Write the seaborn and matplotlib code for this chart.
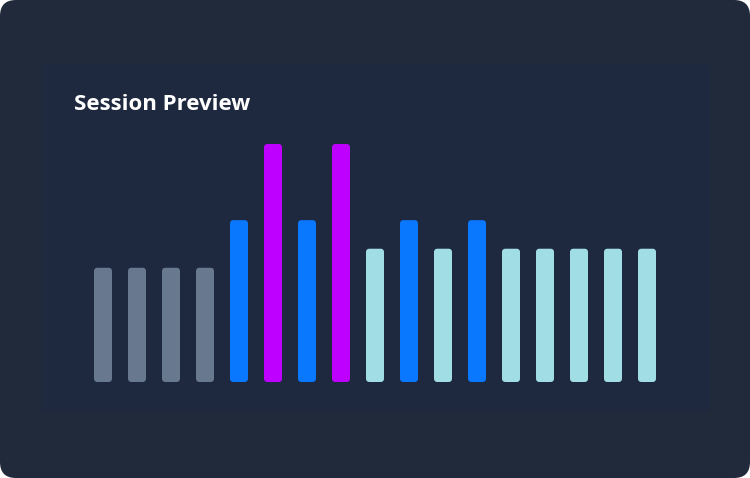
import pandas as pd
import seaborn as sns
import matplotlib.pyplot as plt
from matplotlib.patches import FancyBboxPatch

sns.set_style("white")
plt.rcParams["font.family"] = ["Open Sans", "DejaVu Sans"]

# bar data
slots = [str(i) for i in range(1, 18)]
values = [48, 48, 48, 48, 68, 100, 68, 100, 56, 68, 56, 68, 56, 56, 56, 56, 56]
kinds = ["idle", "idle", "idle", "idle", "active", "peak", "active", "peak",
         "rest", "active", "rest", "active", "rest", "rest", "rest", "rest", "rest"]

colors = {"idle": "#67788f", "active": "#0a77ff", "peak": "#bd00ff", "rest": "#a1dde4"}

df = pd.DataFrame({"slot": slots, "value": values, "kind": kinds})

W, H = 750, 478
fig = plt.figure(figsize=(W / 100, H / 100), dpi=100)
fig.patch.set_facecolor("white")

# card background and inner panel
fig.patches.append(FancyBboxPatch((0, 0), 1, 1, boxstyle="round,pad=0,rounding_size=%f" % (16 / W),
                                  mutation_aspect=W / H, transform=fig.transFigure,
                                  facecolor="#202a3b", edgecolor="none", zorder=0))
fig.patches.append(FancyBboxPatch((41 / W, 1 - 412 / H), (710 - 41) / W, (412 - 64) / H,
                                  boxstyle="round,pad=0,rounding_size=%f" % (6 / W),
                                  mutation_aspect=W / H, transform=fig.transFigure,
                                  facecolor="#1e2940", edgecolor="none", zorder=0))

fig.text(74 / W, 1 - 104 / H, "Session Preview", color="white", fontsize=16,
         fontweight="bold", va="center", ha="left")

ax = fig.add_axes([86 / W, 96 / H, 578 / W, 238 / H])
sns.barplot(data=df, x="slot", y="value", hue="kind", palette=colors,
            width=18 / 34, dodge=False, legend=False, ax=ax, saturation=1)
ax.set_xlim(-0.5, 16.5)
ax.set_ylim(0, 100)
ax.axis("off")
ax.patch.set_alpha(0)

# swap plain rectangles for rounded ones
fig.canvas.draw()
inv = fig.transFigure.inverted()
for bar in list(ax.patches):
    if bar.get_height() <= 0:
        continue
    (x0, y0), (x1, y1) = inv.transform(bar.get_window_extent())
    fig.patches.append(FancyBboxPatch((x0, y0), x1 - x0, y1 - y0,
                                      boxstyle="round,pad=0,rounding_size=%f" % (3.5 / W),
                                      mutation_aspect=W / H, transform=fig.transFigure,
                                      facecolor=bar.get_facecolor(), edgecolor="none", zorder=2))
    bar.set_visible(False)

fig.savefig("out.png", dpi=100, facecolor=fig.get_facecolor())
